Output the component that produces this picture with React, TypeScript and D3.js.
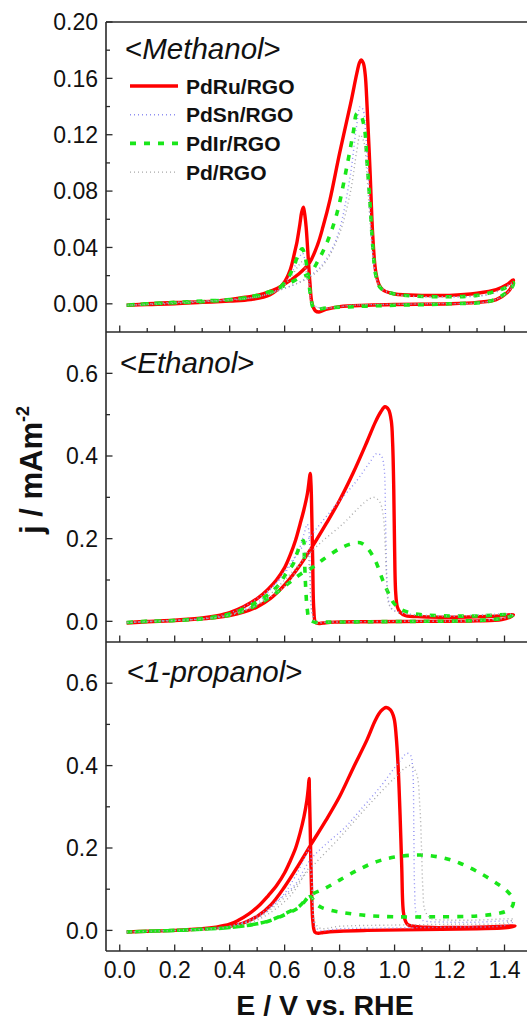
import React, { useEffect } from "react";
import * as d3 from "d3";

type Pt = [number, number];

// ---------- DATA (E / V vs RHE, j / mA m^-2) ----------
const seriesNames = ["PdRu/RGO", "PdSn/RGO", "PdIr/RGO", "Pd/RGO"];
const panelTitles = ["Methanol", "Ethanol", "1-propanol"];
const xTickValues = [0, 0.2, 0.4, 0.6, 0.8, 1.0, 1.2, 1.4];
const xMinorTicks = [0.1, 0.3, 0.5, 0.7, 0.9, 1.1, 1.3];
const yTicksMeOH = [0, 0.04, 0.08, 0.12, 0.16, 0.2];
const yMinorMeOH = [0.02, 0.06, 0.1, 0.14, 0.18];
const yTicksOther = [0, 0.2, 0.4, 0.6];
const yMinorOther = [0.1, 0.3, 0.5];

// Methanol
const meohPdRu: Pt[] = [
  [0.025, -0.001], [0.1, 0.0], [0.2, 0.001], [0.3, 0.0015], [0.4, 0.003], [0.45, 0.0045], [0.5, 0.006], [0.55, 0.009],
  [0.6, 0.014], [0.65, 0.021], [0.69, 0.029], [0.72, 0.042], [0.74, 0.055], [0.765, 0.074], [0.8, 0.107], [0.84, 0.142],
  [0.862, 0.163], [0.872, 0.171], [0.878, 0.173], [0.886, 0.171], [0.893, 0.163], [0.9, 0.14], [0.911, 0.093],
  [0.921, 0.047], [0.932, 0.022], [0.945, 0.013], [0.96, 0.0095], [1.0, 0.007], [1.1, 0.006], [1.2, 0.006],
  [1.3, 0.0075], [1.37, 0.01], [1.408, 0.0135], [1.432, 0.017],
  [1.425, 0.012], [1.41, 0.008], [1.37, 0.003], [1.3, 0.001], [1.2, 0.0], [1.0, -0.0005], [0.9, -0.001], [0.8, -0.002],
  [0.75, -0.004], [0.725, -0.0058], [0.712, -0.005], [0.7, 0.0], [0.692, 0.015], [0.685, 0.035], [0.678, 0.055],
  [0.672, 0.065], [0.668, 0.0685], [0.662, 0.065], [0.655, 0.056], [0.645, 0.044], [0.638, 0.038], [0.62, 0.024],
  [0.596, 0.0146], [0.547, 0.0065], [0.475, 0.003], [0.4, 0.002], [0.3, 0.001], [0.2, 0.0], [0.1, -0.0005], [0.025, -0.001],
];
const meohPdSn: Pt[] = [
  [0.025, -0.001], [0.2, 0.001], [0.4, 0.003], [0.5, 0.005], [0.6, 0.011], [0.65, 0.015], [0.7, 0.021], [0.73, 0.026],
  [0.77, 0.038], [0.8, 0.053], [0.838, 0.09], [0.861, 0.125], [0.875, 0.14], [0.885, 0.138], [0.895, 0.12],
  [0.905, 0.09], [0.915, 0.05], [0.93, 0.022], [0.95, 0.011], [1.0, 0.007], [1.2, 0.005], [1.35, 0.007], [1.432, 0.015],
  [1.41, 0.008], [1.35, 0.002], [1.1, 0.0], [0.85, -0.001], [0.73, -0.003], [0.7, 0.0], [0.69, 0.015], [0.675, 0.03],
  [0.665, 0.036], [0.65, 0.032], [0.62, 0.02], [0.58, 0.011], [0.5, 0.005], [0.3, 0.0015], [0.025, -0.001],
];
const meohPdIr: Pt[] = [
  [0.025, -0.001], [0.1, 0.0], [0.2, 0.001], [0.3, 0.002], [0.4, 0.003], [0.5, 0.006], [0.6, 0.013], [0.65, 0.018],
  [0.693, 0.022], [0.72, 0.03], [0.753, 0.043], [0.79, 0.064], [0.826, 0.097], [0.85, 0.122], [0.863, 0.135],
  [0.876, 0.134], [0.89, 0.125], [0.9, 0.1], [0.911, 0.07], [0.921, 0.04], [0.932, 0.02], [0.95, 0.011], [1.0, 0.007],
  [1.2, 0.005], [1.3, 0.006], [1.37, 0.009], [1.41, 0.012], [1.432, 0.015],
  [1.425, 0.011], [1.4, 0.007], [1.35, 0.002], [1.2, 0.0], [1.0, -0.001], [0.85, -0.002], [0.75, -0.003], [0.72, -0.004],
  [0.705, -0.003], [0.695, 0.005], [0.685, 0.02], [0.675, 0.033], [0.664, 0.039], [0.65, 0.035], [0.63, 0.025],
  [0.6, 0.015], [0.55, 0.008], [0.45, 0.004], [0.3, 0.0015], [0.1, 0.0], [0.025, -0.001],
];
const meohPd: Pt[] = [
  [0.025, -0.001], [0.2, 0.001], [0.4, 0.003], [0.5, 0.005], [0.6, 0.011], [0.7, 0.02], [0.75, 0.03], [0.8, 0.05],
  [0.84, 0.08], [0.862, 0.108], [0.875, 0.12], [0.888, 0.115], [0.9, 0.09], [0.912, 0.055], [0.925, 0.028],
  [0.945, 0.013], [1.0, 0.007], [1.2, 0.005], [1.35, 0.007], [1.432, 0.014],
  [1.41, 0.008], [1.35, 0.002], [1.1, 0.0], [0.85, -0.001], [0.73, -0.003], [0.7, 0.0], [0.69, 0.012], [0.675, 0.025],
  [0.665, 0.03], [0.65, 0.027], [0.62, 0.018], [0.58, 0.01], [0.5, 0.005], [0.3, 0.0015], [0.025, -0.001],
];

// Ethanol
const etohPdRu: Pt[] = [
  [0.025, -0.004], [0.1, -0.001], [0.2, 0.002], [0.3, 0.006], [0.35, 0.009], [0.4, 0.014], [0.45, 0.022], [0.5, 0.035],
  [0.55, 0.056], [0.6, 0.088], [0.65, 0.13], [0.7, 0.18], [0.75, 0.235], [0.8, 0.293], [0.85, 0.36], [0.9, 0.435],
  [0.93, 0.482], [0.95, 0.507], [0.965, 0.519], [0.978, 0.512], [0.988, 0.485], [0.993, 0.43], [0.997, 0.32],
  [1.0, 0.18], [1.004, 0.07], [1.01, 0.035], [1.02, 0.022], [1.04, 0.014], [1.1, 0.011], [1.2, 0.01], [1.3, 0.011],
  [1.38, 0.013], [1.432, 0.016],
  [1.42, 0.01], [1.39, 0.004], [1.3, 0.001], [1.1, 0.0], [0.9, -0.001], [0.78, -0.002], [0.74, -0.004], [0.722, -0.005],
  [0.712, -0.002], [0.706, 0.03], [0.702, 0.15], [0.699, 0.25], [0.696, 0.33], [0.693, 0.358], [0.69, 0.345],
  [0.683, 0.31], [0.67, 0.27], [0.656, 0.235], [0.64, 0.197], [0.62, 0.16], [0.6, 0.13], [0.57, 0.1],
  [0.54, 0.078], [0.5, 0.055], [0.45, 0.035], [0.4, 0.021], [0.35, 0.013], [0.3, 0.008], [0.2, 0.003], [0.1, 0.0],
  [0.025, -0.003],
];
const etohPdSn: Pt[] = [
  [0.025, -0.003], [0.2, 0.002], [0.3, 0.006], [0.4, 0.015], [0.5, 0.045], [0.559, 0.085], [0.62, 0.14],
  [0.693, 0.205], [0.778, 0.275], [0.862, 0.34], [0.91, 0.385], [0.935, 0.406], [0.952, 0.4], [0.962, 0.37],
  [0.967, 0.25], [0.971, 0.12], [0.978, 0.05], [0.99, 0.03], [1.05, 0.018], [1.2, 0.013], [1.432, 0.016],
  [1.4, 0.008], [1.3, 0.002], [1.0, 0.0], [0.75, -0.002], [0.715, -0.003], [0.7, 0.02], [0.693, 0.12], [0.688, 0.22],
  [0.682, 0.235], [0.67, 0.21], [0.65, 0.17], [0.62, 0.135], [0.58, 0.1], [0.5, 0.055], [0.4, 0.02], [0.3, 0.007],
  [0.1, 0.0], [0.025, -0.003],
];
const etohPdIr: Pt[] = [
  [0.025, -0.003], [0.1, 0.0], [0.2, 0.002], [0.3, 0.006], [0.4, 0.015], [0.45, 0.025], [0.5, 0.04], [0.55, 0.06],
  [0.584, 0.076], [0.62, 0.095], [0.66, 0.115], [0.705, 0.132], [0.741, 0.15], [0.8, 0.176], [0.84, 0.187],
  [0.875, 0.19], [0.9, 0.178], [0.929, 0.148], [0.959, 0.096], [0.98, 0.065], [0.996, 0.045], [1.02, 0.03],
  [1.06, 0.02], [1.1, 0.016], [1.2, 0.013], [1.3, 0.013], [1.432, 0.016],
  [1.4, 0.008], [1.3, 0.002], [1.1, 0.0], [0.9, -0.001], [0.75, -0.002], [0.71, -0.002], [0.69, 0.005],
  [0.682, 0.031], [0.677, 0.076], [0.672, 0.15], [0.668, 0.195], [0.66, 0.19], [0.645, 0.165], [0.632, 0.14],
  [0.6, 0.11], [0.584, 0.092], [0.55, 0.07], [0.5, 0.047], [0.45, 0.03], [0.4, 0.018], [0.3, 0.007], [0.2, 0.002],
  [0.1, 0.0], [0.025, -0.003],
];
const etohPd: Pt[] = [
  [0.025, -0.003], [0.2, 0.002], [0.3, 0.006], [0.4, 0.015], [0.5, 0.04], [0.6, 0.1], [0.656, 0.14], [0.729, 0.189],
  [0.814, 0.237], [0.87, 0.275], [0.905, 0.295], [0.925, 0.3], [0.945, 0.29], [0.958, 0.26], [0.966, 0.18],
  [0.972, 0.09], [0.98, 0.04], [1.0, 0.025], [1.05, 0.017], [1.2, 0.013], [1.432, 0.016],
  [1.4, 0.008], [1.3, 0.002], [1.0, 0.0], [0.75, -0.002], [0.715, -0.003], [0.7, 0.02], [0.692, 0.1], [0.685, 0.16],
  [0.678, 0.17], [0.665, 0.15], [0.64, 0.12], [0.6, 0.085], [0.5, 0.04], [0.4, 0.016], [0.3, 0.006], [0.1, 0.0],
  [0.025, -0.003],
];

// 1-propanol
const propPdRu: Pt[] = [
  [0.025, -0.004], [0.1, -0.002], [0.2, 0.0], [0.3, 0.004], [0.35, 0.006], [0.4, 0.01], [0.45, 0.018], [0.5, 0.034],
  [0.55, 0.062], [0.6, 0.106], [0.65, 0.158], [0.7, 0.213], [0.75, 0.267], [0.8, 0.325], [0.85, 0.395], [0.9, 0.463],
  [0.93, 0.51], [0.95, 0.532], [0.969, 0.541], [0.985, 0.535], [0.998, 0.515], [1.006, 0.47], [1.013, 0.397],
  [1.02, 0.28], [1.026, 0.155], [1.032, 0.045], [1.04, 0.022], [1.05, 0.013], [1.117, 0.0075], [1.2, 0.007],
  [1.3, 0.008], [1.4, 0.01], [1.438, 0.011],
  [1.43, 0.009], [1.4, 0.006], [1.3, 0.004], [1.1, 0.002], [0.9, 0.0], [0.8, -0.002], [0.74, -0.005], [0.723, -0.007],
  [0.71, -0.004], [0.703, 0.02], [0.697, 0.12], [0.693, 0.25], [0.69, 0.34], [0.689, 0.369], [0.686, 0.345],
  [0.681, 0.316], [0.67, 0.275], [0.656, 0.236], [0.64, 0.2], [0.62, 0.168], [0.6, 0.14], [0.572, 0.11],
  [0.54, 0.084], [0.511, 0.063], [0.47, 0.04], [0.43, 0.024], [0.4, 0.015], [0.35, 0.008], [0.3, 0.004], [0.2, 0.0],
  [0.1, -0.002], [0.025, -0.004],
];
const propPdSn: Pt[] = [
  [0.025, -0.004], [0.2, 0.0], [0.3, 0.003], [0.4, 0.01], [0.5, 0.035], [0.57, 0.07], [0.632, 0.106], [0.693, 0.171],
  [0.753, 0.211], [0.82, 0.25], [0.875, 0.292], [0.95, 0.35], [1.0, 0.395], [1.03, 0.42], [1.044, 0.43],
  [1.058, 0.425], [1.066, 0.39], [1.07, 0.25], [1.073, 0.1], [1.08, 0.04], [1.1, 0.025], [1.2, 0.02], [1.3, 0.02],
  [1.432, 0.022],
  [1.4, 0.012], [1.2, 0.008], [1.0, 0.006], [0.8, 0.004], [0.73, 0.0], [0.71, 0.01], [0.702, 0.08], [0.697, 0.17],
  [0.69, 0.2], [0.675, 0.18], [0.65, 0.145], [0.62, 0.11], [0.6, 0.09], [0.55, 0.055], [0.5, 0.03], [0.4, 0.01],
  [0.3, 0.003], [0.1, -0.002], [0.025, -0.004],
];
const propPdIr: Pt[] = [
  [0.025, -0.004], [0.1, -0.002], [0.2, 0.0], [0.3, 0.003], [0.4, 0.007], [0.45, 0.011], [0.5, 0.016],
  [0.535, 0.021], [0.6, 0.038], [0.656, 0.058], [0.693, 0.085], [0.75, 0.103], [0.8, 0.122], [0.87, 0.148],
  [0.935, 0.167], [1.0, 0.178], [1.093, 0.183], [1.17, 0.177], [1.238, 0.163], [1.311, 0.139], [1.372, 0.114],
  [1.41, 0.095], [1.432, 0.075],
  [1.428, 0.058], [1.41, 0.048], [1.384, 0.042], [1.3, 0.035], [1.141, 0.033], [1.0, 0.033], [0.9, 0.036],
  [0.814, 0.043], [0.76, 0.05], [0.73, 0.057], [0.71, 0.068], [0.695, 0.082], [0.68, 0.078], [0.656, 0.06],
  [0.6, 0.04], [0.55, 0.025], [0.5, 0.016], [0.4, 0.007], [0.3, 0.003], [0.2, 0.0], [0.1, -0.002], [0.025, -0.004],
];
const propPd: Pt[] = [
  [0.025, -0.004], [0.2, 0.0], [0.3, 0.003], [0.4, 0.009], [0.5, 0.03], [0.6, 0.08], [0.693, 0.15], [0.8, 0.225],
  [0.9, 0.3], [1.0, 0.37], [1.04, 0.395], [1.06, 0.4], [1.08, 0.38], [1.092, 0.3], [1.098, 0.2], [1.103, 0.1],
  [1.11, 0.05], [1.13, 0.03], [1.2, 0.025], [1.3, 0.025], [1.432, 0.027],
  [1.4, 0.018], [1.2, 0.015], [1.0, 0.013], [0.8, 0.01], [0.73, 0.005], [0.71, 0.02], [0.7, 0.1], [0.69, 0.15],
  [0.675, 0.14], [0.65, 0.11], [0.6, 0.07], [0.5, 0.025], [0.4, 0.008], [0.3, 0.002], [0.1, -0.002], [0.025, -0.004],
];

// ---------- STYLES ----------
const seriesStyles = [
  { color: "#ff0000", width: 3.4, dash: "" },
  { color: "#8f8ff2", width: 1.4, dash: "1 3" },
  { color: "#19e619", width: 3.6, dash: "6 8" },
  { color: "#a8a8a8", width: 1.4, dash: "1 3" },
];

const FONT = "'Liberation Sans', Arial, Helvetica, sans-serif";
const W = 527;
const H = 1022;
const X0 = 106;
const X1 = 532;

const panels = [
  { title: panelTitles[0], top: 22, bottom: 332, domain: [-0.02, 0.2], ticks: yTicksMeOH, minor: yMinorMeOH, fmt: ".2f", data: [meohPdRu, meohPdSn, meohPdIr, meohPd], titleX: 125, titleY: 59 },
  { title: panelTitles[1], top: 332, bottom: 642, domain: [-0.05, 0.7], ticks: yTicksOther, minor: yMinorOther, fmt: ".1f", data: [etohPdRu, etohPdSn, etohPdIr, etohPd], titleX: 120, titleY: 373 },
  { title: panelTitles[2], top: 642, bottom: 951, domain: [-0.05, 0.7], ticks: yTicksOther, minor: yMinorOther, fmt: ".1f", data: [propPdRu, propPdSn, propPdIr, propPd], titleX: 127, titleY: 682 },
];

export default function App() {
  useEffect(() => {
    document.body.style.margin = "0";
    document.body.style.overflow = "hidden";
  }, []);

  const x = d3.scaleLinear().domain([-0.05, 1.5]).range([X0, X1]);
  const axisColor = "#2a2a2a";

  return (
    <svg width={W} height={H} style={{ display: "block", background: "#fff" }} fontFamily={FONT}>
      <defs>
        {panels.map((p, i) => (
          <clipPath id={`clip${i}`} key={i}>
            <rect x={X0} y={p.top} width={X1 - X0} height={p.bottom - p.top} />
          </clipPath>
        ))}
      </defs>
      {panels.map((p, pi) => {
        const y = d3.scaleLinear().domain(p.domain).range([p.bottom, p.top]);
        const line = d3
          .line<Pt>()
          .x((d) => x(d[0]))
          .y((d) => y(d[1]))
          .curve(d3.curveCatmullRom.alpha(0.5));
        const fmt = d3.format(p.fmt);
        return (
          <g key={pi}>
            <g clipPath={`url(#clip${pi})`}>
              {p.data.map((d, si) => (
                <path
                  key={si}
                  d={line(d) || ""}
                  fill="none"
                  stroke={seriesStyles[si].color}
                  strokeWidth={seriesStyles[si].width}
                  strokeDasharray={seriesStyles[si].dash || undefined}
                  strokeLinejoin="round"
                />
              ))}
            </g>
            <line x1={X0} x2={X1} y1={p.bottom} y2={p.bottom} stroke={axisColor} strokeWidth={1.6} />
            {pi === 0 && <line x1={X0} x2={X1} y1={p.top} y2={p.top} stroke={axisColor} strokeWidth={1.6} />}
            {xTickValues.map((t) => (
              <line key={"xt" + t} x1={x(t)} x2={x(t)} y1={p.bottom} y2={p.bottom - 6.5} stroke={axisColor} strokeWidth={1.3} />
            ))}
            {xMinorTicks.map((t) => (
              <line key={"xm" + t} x1={x(t)} x2={x(t)} y1={p.bottom} y2={p.bottom - 4} stroke={axisColor} strokeWidth={1.3} />
            ))}
            {p.ticks.map((t) => (
              <g key={"yt" + t}>
                <line x1={X0} x2={X0 + 6.5} y1={y(t)} y2={y(t)} stroke={axisColor} strokeWidth={1.3} />
                <text x={98} y={y(t)} dy="0.36em" textAnchor="end" fontSize={23} fill="#111">
                  {fmt(t)}
                </text>
              </g>
            ))}
            {p.minor.map((t) => (
              <line key={"ym" + t} x1={X0} x2={X0 + 4} y1={y(t)} y2={y(t)} stroke={axisColor} strokeWidth={1.3} />
            ))}
            <text x={p.titleX} y={p.titleY} fontSize={29.5} fill="#111">
              <tspan>&lt;</tspan>
              <tspan fontStyle="italic">{p.title}</tspan>
              <tspan>&gt;</tspan>
            </text>
          </g>
        );
      })}
      <line x1={X0} x2={X0} y1={22} y2={951} stroke={axisColor} strokeWidth={1.6} />
      {seriesNames.map((name, i) => {
        const ly = 86 + i * 28.7;
        const s = seriesStyles[i];
        return (
          <g key={name}>
            <line x1={130} x2={178} y1={ly} y2={ly} stroke={s.color} strokeWidth={s.width} strokeDasharray={s.dash || undefined} />
            <text x={186} y={ly} dy="0.36em" fontSize={21} fontWeight="bold" fill="#111">
              {name}
            </text>
          </g>
        );
      })}
      {xTickValues.map((t) => (
        <text key={"xl" + t} x={x(t)} y={978} textAnchor="middle" fontSize={23} fill="#111">
          {d3.format(".1f")(t)}
        </text>
      ))}
      <text x={325} y={1015} textAnchor="middle" fontSize={28.5} fontWeight="bold" fill="#111">
        E / V vs. RHE
      </text>
      <text transform="translate(42,470) rotate(-90)" textAnchor="middle" fontSize={31} fontWeight="bold" fill="#111">
        j / mAm
        <tspan fontSize={18} dy={-13}>-2</tspan>
      </text>
    </svg>
  );
}
